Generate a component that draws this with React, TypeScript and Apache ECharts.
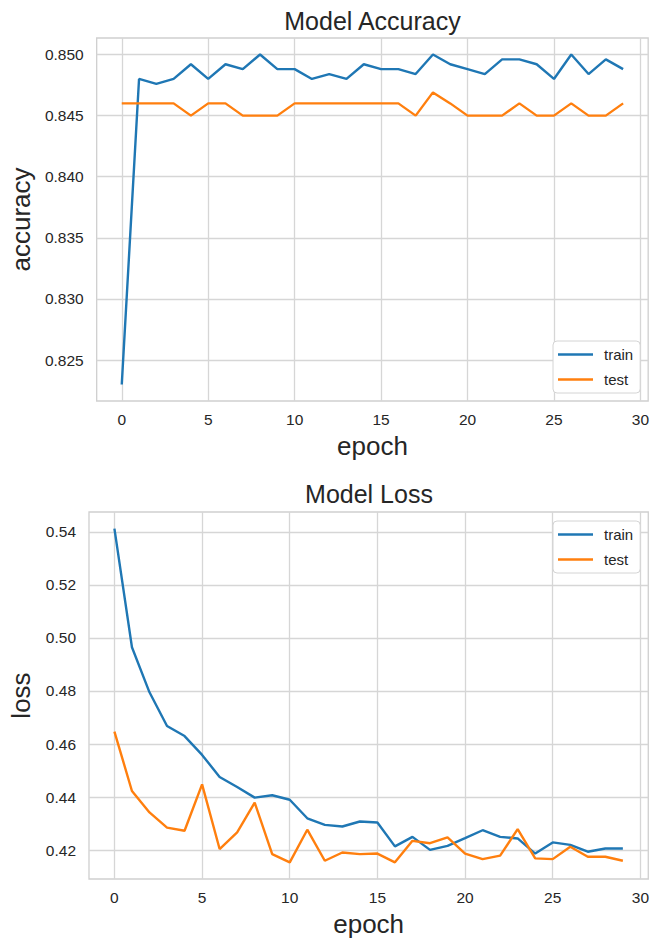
import React, { useEffect, useRef } from "react";
import * as echarts from "echarts";

// Training history: 30 epochs of accuracy and loss for train / test splits
const epochs = [
  0, 1, 2, 3, 4, 5, 6, 7, 8, 9, 10, 11, 12, 13, 14, 15, 16, 17, 18, 19, 20, 21, 22, 23, 24, 25, 26, 27, 28, 29,
];

const accTrain = [
  0.823, 0.848, 0.8476, 0.848, 0.8492, 0.848, 0.8492, 0.8488, 0.85, 0.8488, 0.8488, 0.848, 0.8484, 0.848,
  0.8492, 0.8488, 0.8488, 0.8484, 0.85, 0.8492, 0.8488, 0.8484, 0.8496, 0.8496, 0.8492, 0.848, 0.85, 0.8484,
  0.8496, 0.8488,
];
const accTest = [
  0.846, 0.846, 0.846, 0.846, 0.845, 0.846, 0.846, 0.845, 0.845, 0.845, 0.846, 0.846, 0.846, 0.846, 0.846,
  0.846, 0.846, 0.845, 0.8469, 0.846, 0.845, 0.845, 0.845, 0.846, 0.845, 0.845, 0.846, 0.845, 0.845, 0.846,
];

const lossTrain = [
  0.5412, 0.4965, 0.4795, 0.4668, 0.463, 0.4559, 0.4476, 0.4438, 0.4398, 0.4407, 0.439, 0.432, 0.4295,
  0.4289, 0.4308, 0.4304, 0.4214, 0.425, 0.4201, 0.4216, 0.4245, 0.4275, 0.425, 0.4244, 0.4187, 0.4229,
  0.422, 0.4194, 0.4206, 0.4206,
];
const lossTest = [
  0.4647, 0.4423, 0.4342, 0.4285, 0.4273, 0.4448, 0.4204, 0.4267, 0.4379, 0.4185, 0.4154, 0.4277, 0.416,
  0.4191, 0.4185, 0.4187, 0.4154, 0.4235, 0.4226, 0.4248, 0.4187, 0.4166, 0.4179, 0.4279, 0.4169, 0.4166,
  0.4213, 0.4175, 0.4175, 0.416,
];

const epochTicks = [0, 5, 10, 15, 20, 25, 30];
const accTicks = [0.825, 0.83, 0.835, 0.84, 0.845, 0.85];
const lossTicks = [0.42, 0.44, 0.46, 0.48, 0.5, 0.52, 0.54];

const seriesNames = ["train", "test"];
const colors = ["#1f77b4", "#ff7f0e"];

const FONT = "'Liberation Sans', Arial, sans-serif";
const TEXT = "#262626";
const GRID_LINE = "#d6d6d6";

// matplotlib-style 5% padding around the data range
function paddedRange(values: number[]): [number, number] {
  const lo = Math.min(...values);
  const hi = Math.max(...values);
  const pad = (hi - lo) * 0.05;
  return [lo - pad, hi + pad];
}

function pairs(ys: number[]) {
  return ys.map((y, i) => [epochs[i], y]);
}

function xAxisFor(gridIndex: number) {
  const [lo, hi] = paddedRange(epochs);
  return {
    gridIndex,
    type: "value",
    min: lo,
    max: hi,
    axisLine: { show: false },
    axisTick: { show: false, customValues: epochTicks },
    axisLabel: {
      customValues: epochTicks,
      margin: 10,
      fontSize: 15.5,
      color: TEXT,
      fontFamily: FONT,
      formatter: (v: number) => String(Math.round(v)),
    },
    splitLine: { show: true, lineStyle: { color: GRID_LINE, width: 1.3 } },
    name: "epoch",
    nameLocation: "middle",
    nameGap: 32,
    nameTextStyle: { fontSize: 26, color: TEXT, fontFamily: FONT },
  };
}

function yAxisFor(gridIndex: number, values: number[], ticks: number[], digits: number, name: string) {
  const [lo, hi] = paddedRange(values);
  return {
    gridIndex,
    type: "value",
    min: lo,
    max: hi,
    axisLine: { show: false },
    axisTick: { show: false, customValues: ticks },
    axisLabel: {
      customValues: ticks,
      margin: 13,
      fontSize: 15.5,
      color: TEXT,
      fontFamily: FONT,
      formatter: (v: number) => v.toFixed(digits),
    },
    splitLine: { show: true, lineStyle: { color: GRID_LINE, width: 1.3 } },
    name,
    nameLocation: "middle",
    nameRotate: 90,
    nameGap: 55,
    nameTextStyle: { fontSize: 26, color: TEXT, fontFamily: FONT },
  };
}

function lineSeries(name: string, idx: number, data: number[], color: string) {
  return {
    name,
    type: "line",
    xAxisIndex: idx,
    yAxisIndex: idx,
    data: pairs(data),
    symbol: "none",
    lineStyle: { color, width: 2.4 },
    itemStyle: { color },
    z: name === "test" ? 3 : 2,
  };
}

function legendAt(top: number) {
  return {
    data: seriesNames,
    orient: "vertical",
    left: 553,
    top,
    icon: "rect",
    itemWidth: 35,
    itemHeight: 2.6,
    itemGap: 10,
    padding: [6, 7, 6, 5],
    backgroundColor: "#ffffff",
    borderColor: "#d4d4d4",
    borderWidth: 1,
    borderRadius: 4,
    selectedMode: false,
    textStyle: { fontSize: 15, color: TEXT, fontFamily: FONT, padding: [0, 0, 0, 6] },
  };
}

export default function App() {
  const ref = useRef<HTMLDivElement>(null);

  useEffect(() => {
    if (!ref.current) return;
    const chart = echarts.init(ref.current, undefined, { renderer: "svg" });

    const grids = [
      { left: 95, top: 38, width: 555, height: 363 },
      { left: 88, top: 512, width: 562, height: 368 },
    ];

    chart.setOption({
      animation: false,
      backgroundColor: "#ffffff",
      grid: grids.map((g) => ({
        ...g,
        show: true,
        borderColor: "#cfcfcf",
        borderWidth: 1.3,
        backgroundColor: "transparent",
      })),
      xAxis: [xAxisFor(0), xAxisFor(1)],
      yAxis: [
        yAxisFor(0, [...accTrain, ...accTest], accTicks, 3, "accuracy"),
        yAxisFor(1, [...lossTrain, ...lossTest], lossTicks, 2, "loss"),
      ],
      legend: [legendAt(341), legendAt(521)],
      graphic: [
        {
          type: "text",
          x: grids[0].left + grids[0].width / 2,
          y: 21,
          style: {
            text: "Model Accuracy",
            fontSize: 25,
            fontFamily: FONT,
            fill: TEXT,
            textAlign: "center",
            textVerticalAlign: "middle",
          },
        },
        {
          type: "text",
          x: grids[1].left + grids[1].width / 2,
          y: 494,
          style: {
            text: "Model Loss",
            fontSize: 25,
            fontFamily: FONT,
            fill: TEXT,
            textAlign: "center",
            textVerticalAlign: "middle",
          },
        },
      ],
      series: [
        lineSeries("train", 0, accTrain, colors[0]),
        lineSeries("test", 0, accTest, colors[1]),
        lineSeries("train", 1, lossTrain, colors[0]),
        lineSeries("test", 1, lossTest, colors[1]),
      ],
    });

    return () => chart.dispose();
  }, []);

  return (
    <div
      ref={ref}
      style={{ position: "absolute", left: 0, top: 0, width: 652, height: 938, background: "#fff" }}
    />
  );
}
